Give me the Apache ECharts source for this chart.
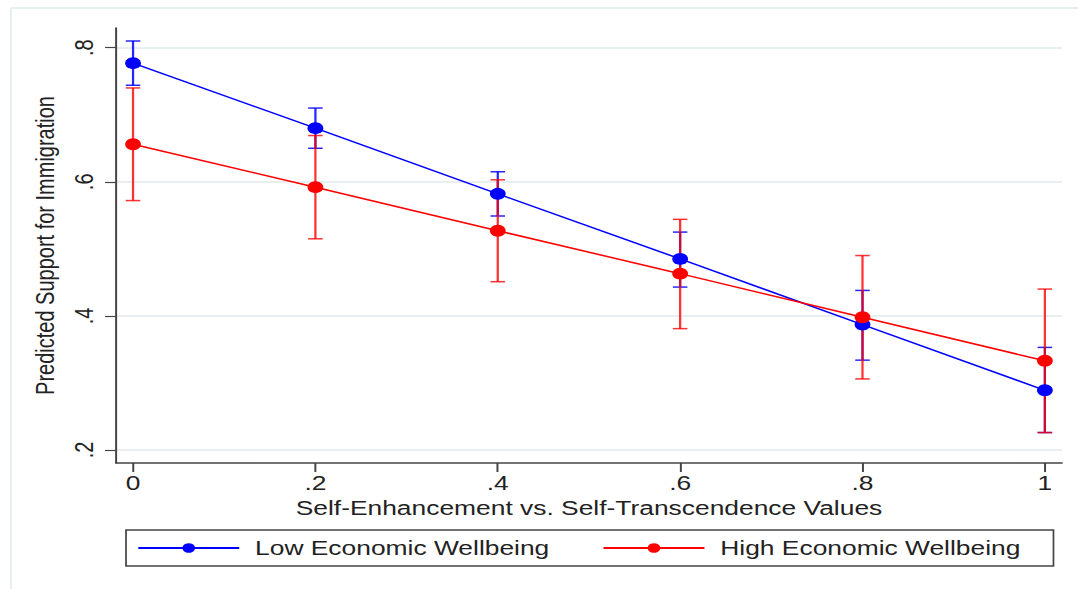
<!DOCTYPE html>
<html>
<head>
<meta charset="utf-8">
<script src="https://cdn.jsdelivr.net/npm/echarts@6/dist/echarts.min.js"></script>
<style>
    html, body { margin: 0; padding: 0; background: #fff; overflow: hidden; }
    /* the original picture is stretched sideways, so draw narrow and scale */
    #chart { width: 817px; height: 589px; transform: scaleX(1.3195); transform-origin: 0 0; }
</style>
</head>
<body>
<div id="chart"></div>
<script>
var xValues = [0, 0.2, 0.4, 0.6, 0.8, 1];

var lowMean = [0.777, 0.680, 0.582, 0.485, 0.387, 0.289];
var lowUpper = [0.810, 0.710, 0.615, 0.525, 0.438, 0.353];
var lowLower = [0.744, 0.650, 0.549, 0.443, 0.334, 0.226];

var highMean = [0.656, 0.592, 0.527, 0.463, 0.398, 0.333];
var highUpper = [0.740, 0.669, 0.603, 0.544, 0.490, 0.440];
var highLower = [0.572, 0.515, 0.451, 0.381, 0.306, 0.226];

var xTicks = [0, 0.2, 0.4, 0.6, 0.8, 1];
var yTicks = [0.2, 0.4, 0.6, 0.8];

var FONT = "Liberation Sans";

// stata style labels: .2 instead of 0.2
function stataNum(v) {
    var s = String(Math.round(v * 10) / 10);
    return s.replace(/^0\./, ".");
}

function pairs(xs, ys) {
    return xs.map(function (x, i) { return [x, ys[i]]; });
}

function ranges(xs, lo, hi) {
    return xs.map(function (x, i) { return [x, lo[i], hi[i]]; });
}

function errorBars(color) {
    return function (params, api) {
        var x = api.value(0);
        var top = api.coord([x, api.value(2)]);
        var bot = api.coord([x, api.value(1)]);
        var hw = 5.5;
        return {
            type: "group",
            children: [
                { type: "line", shape: { x1: top[0], y1: top[1], x2: bot[0], y2: bot[1] }, style: { stroke: color, lineWidth: 1.7 } },
                { type: "line", shape: { x1: top[0] - hw, y1: top[1], x2: top[0] + hw, y2: top[1] }, style: { stroke: color, lineWidth: 1.5 } },
                { type: "line", shape: { x1: bot[0] - hw, y1: bot[1], x2: bot[0] + hw, y2: bot[1] }, style: { stroke: color, lineWidth: 1.5 } }
            ]
        };
    };
}

var myChart = echarts.init(document.getElementById("chart"), null, { renderer: "svg" });

var opt = {
    backgroundColor: "#fff",
    animation: false,
    textStyle: { fontFamily: FONT },
    graphic: [
        { type: "line", shape: { x1: 8.3, y1: 8, x2: 8.3, y2: 589 }, style: { stroke: "#e8eff1", lineWidth: 1.5 } },
        { type: "line", shape: { x1: 8.3, y1: 8, x2: 817, y2: 8 }, style: { stroke: "#e8eff1", lineWidth: 2 } }
    ],
    grid: { left: 87.9, right: 12.2, top: 28, bottom: 126 },
    legend: {
        data: ["Low Economic Wellbeing", "High Economic Wellbeing"],
        left: 95.5,
        top: 530,
        orient: "horizontal",
        itemWidth: 76.5,
        itemHeight: 12,
        itemGap: 40,
        padding: [8, 25, 8, 8.3],
        borderColor: "#444",
        borderWidth: 1.3,
        borderRadius: 0,
        textStyle: { fontFamily: FONT, fontSize: 20, color: "#222", padding: [0, 0, 0, 7], lineHeight: 20 }
    },
    xAxis: {
        type: "value",
        min: -0.0187,
        max: 1.0187,
        name: "Self-Enhancement vs. Self-Transcendence Values",
        nameLocation: "middle",
        nameGap: 33,
        nameTextStyle: { fontFamily: FONT, fontSize: 20, color: "#222", verticalAlign: "top" },
        axisLine: { show: true, onZero: false, lineStyle: { color: "#444", width: 1.5 } },
        axisTick: { show: true, length: 9, customValues: xTicks, lineStyle: { color: "#444", width: 1.5 } },
        axisLabel: {
            customValues: xTicks, margin: 10, fontSize: 20, color: "#222", fontFamily: FONT,
            formatter: stataNum
        },
        splitLine: { show: false }
    },
    yAxis: {
        type: "value",
        min: 0.1806,
        max: 0.8294,
        name: "Predicted Support for Immigration",
        nameLocation: "middle",
        nameGap: 44,
        nameRotate: 90,
        nameTextStyle: { fontFamily: FONT, fontSize: 20, color: "#222" },
        axisLine: { show: true, onZero: false, lineStyle: { color: "#444", width: 1.5 } },
        axisTick: { show: true, length: 8.3, customValues: yTicks, lineStyle: { color: "#444", width: 1.2 } },
        axisLabel: {
            customValues: yTicks, margin: 14, rotate: 90, fontSize: 20, color: "#222", fontFamily: FONT,
            formatter: stataNum
        },
        splitLine: { show: true, lineStyle: { color: "#e8eff1", width: 2 } }
    },
    series: [
        {
            name: "Low CI",
            type: "custom",
            renderItem: errorBars("rgba(0,0,255,0.85)"),
            encode: { x: 0, y: [1, 2] },
            data: ranges(xValues, lowLower, lowUpper)
        },
        {
            name: "Low Economic Wellbeing",
            type: "line",
            data: pairs(xValues, lowMean),
            symbol: "circle",
            symbolSize: 12,
            color: "#0000ff",
            lineStyle: { color: "#0000ff", width: 1.5 },
            itemStyle: { color: "#0000ff" }
        },
        {
            name: "High CI",
            type: "custom",
            renderItem: errorBars("rgba(255,0,0,0.8)"),
            encode: { x: 0, y: [1, 2] },
            data: ranges(xValues, highLower, highUpper)
        },
        {
            name: "High Economic Wellbeing",
            type: "line",
            data: pairs(xValues, highMean),
            symbol: "circle",
            symbolSize: 12,
            color: "#ff0000",
            lineStyle: { color: "#ff0000", width: 1.5 },
            itemStyle: { color: "#ff0000" }
        }
    ]
};

myChart.setOption(opt);
</script>
</body>
</html>
